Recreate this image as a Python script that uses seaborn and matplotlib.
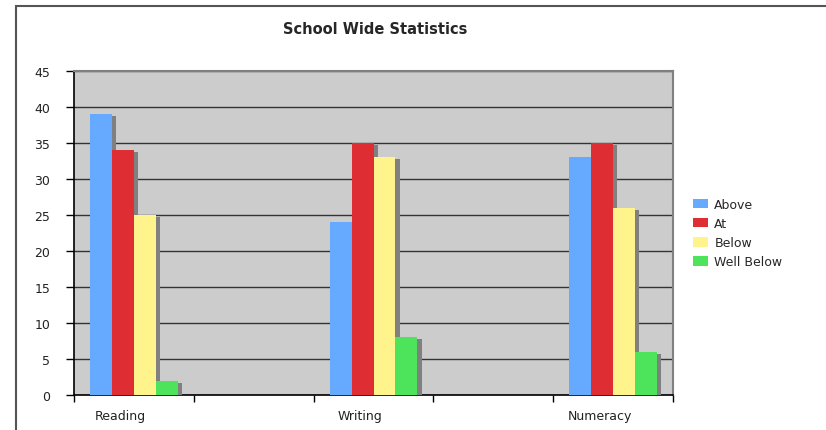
import pandas as pd
import numpy as np
import matplotlib
matplotlib.use('Agg')
import matplotlib.pyplot as plt
import matplotlib.patheffects as pe
from matplotlib.patches import Rectangle, Patch
import seaborn as sns

# 数据
subjects = ['Reading', 'Writing', 'Numeracy']
levels = ['Above', 'At', 'Below', 'Well Below']
above = [39, 24, 33]
at = [34, 35, 35]
below = [25, 33, 26]
well_below = [2, 8, 6]
colors = ['#66AAFF', '#DF2E33', '#FFF38B', '#4DE35A']

df = pd.DataFrame({
    'subject': subjects * 4,
    'level': [lv for lv in levels for _ in subjects],
    'score': above + at + below + well_below,
})

sns.set_style('white')
plt.rcParams['font.family'] = ['DejaVu Sans']

fig = plt.figure(figsize=(8.26, 4.31), dpi=100)
ax = fig.add_axes([74 / 826, 35 / 431, 599 / 826, 324 / 431])

sns.barplot(data=df, x='subject', y='score', hue='level', order=subjects,
            hue_order=levels, palette=colors, saturation=1, width=0.367,
            ax=ax, zorder=3, legend=False)

# 柱子阴影
for p in ax.patches:
    p.set_linewidth(0)
    p.set_path_effects([pe.SimplePatchShadow(offset=(3, -1.5), shadow_rgbFace='#808080', alpha=1),
                        pe.Normal()])

ax.set_facecolor('#CCCCCC')
ax.set_ylim(0, 45)
ax.set_yticks(np.arange(0, 46, 5))
ax.set_xlim(-0.25, 2.25)
ax.yaxis.grid(True, color='#333333', linewidth=1, zorder=1)
ax.set_axisbelow(True)

# x 轴刻度：分隔线与标签
ax.set_xticks(np.arange(-0.25, 2.3, 0.5), minor=True)
ax.set_xticks(np.arange(3) - 0.055)
ax.set_xticklabels(subjects)
ax.tick_params(axis='x', which='major', length=0, pad=10, labelsize=9, labelcolor='#222222')
ax.tick_params(axis='x', which='minor', length=5, width=1, color='black', direction='out', bottom=True)
ax.tick_params(axis='y', length=6, width=1, color='black', direction='out', left=True,
               labelsize=9, labelcolor='#222222', pad=11)
ax.set_xlabel('')
ax.set_ylabel('')

for side in ['top', 'right']:
    ax.spines[side].set_color('#808080')
    ax.spines[side].set_linewidth(1.5)
for side in ['left', 'bottom']:
    ax.spines[side].set_color('black')
    ax.spines[side].set_linewidth(1.2)

# 图例
handles = [Patch(facecolor=c, edgecolor='none') for c in colors]
fig.legend(handles, levels, loc='center left', bbox_to_anchor=(0.839, 0.457),
           frameon=False, fontsize=9, handlelength=1.2, handleheight=0.8,
           handletextpad=0.5, labelspacing=0.5, borderpad=0, borderaxespad=0)

fig.text(375 / 826, 1 - 30 / 431, 'School Wide Statistics', ha='center', va='center',
         fontsize=10.5, fontweight='bold')

# 图表外框
fig.patches.append(Rectangle((15.5 / 826, -0.05), 1.0, 1 - 6.5 / 431 + 0.05,
                             transform=fig.transFigure, fill=False,
                             edgecolor='#555555', linewidth=1.5))

fig.savefig('out.png', dpi=100)
